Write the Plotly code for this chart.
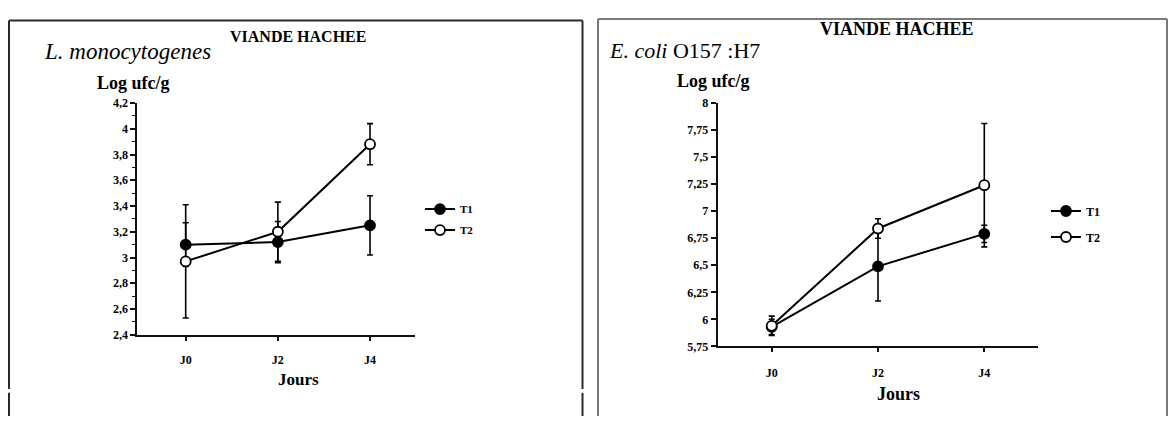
import plotly.graph_objects as go

W, H = 1171, 423

days = ["J0", "J2", "J4"]

# L. monocytogenes (left panel)
lm_t1 = [3.10, 3.12, 3.25]
lm_t1_err = [0.17, 0.16, 0.23]
lm_t2 = [2.97, 3.20, 3.88]
lm_t2_err = [0.44, 0.23, 0.16]

# E. coli O157:H7 (right panel)
ec_t1 = [5.93, 6.49, 6.79]
ec_t1_err = [0.07, 0.32, 0.08]
ec_t2 = [5.94, 6.84, 7.24]
ec_t2_err = [0.09, 0.09, 0.57]

series_names = ["T1", "T2"]
left_yticks = [2.4, 2.6, 2.8, 3.0, 3.2, 3.4, 3.6, 3.8, 4.0, 4.2]
right_yticks = [5.75, 6.0, 6.25, 6.5, 6.75, 7.0, 7.25, 7.5, 7.75, 8.0]

FONT = "Liberation Serif"


def px(x):
    return x / W


def py(y):
    return 1 - y / H


fig = go.Figure()


def add_series(vals, errs, name, filled, xa, ya, legend, group):
    fig.add_trace(go.Scatter(
        x=days, y=vals, name=name, mode="lines+markers",
        xaxis=xa, yaxis=ya, legend=legend, legendgroup=group,
        line=dict(color="black", width=2),
        marker=dict(symbol="circle", size=10,
                    color="black" if filled else "white",
                    line=dict(color="black", width=1.8)),
        error_y=dict(type="data", array=errs, visible=True,
                     color="black", thickness=1.6, width=3),
    ))


add_series(lm_t1, lm_t1_err, series_names[0], True, "x", "y", "legend", "a1")
add_series(lm_t2, lm_t2_err, series_names[1], False, "x", "y", "legend", "a2")
add_series(ec_t1, ec_t1_err, series_names[0], True, "x2", "y2", "legend2", "b1")
add_series(ec_t2, ec_t2_err, series_names[1], False, "x2", "y2", "legend2", "b2")

ytickfont = dict(family=FONT, size=12, color="black", weight="bold")
xtickfont = dict(family=FONT, size=12, color="black", weight="bold")

axis_common = dict(showgrid=False, zeroline=False, showline=True,
                   linecolor="#111", linewidth=2, ticks="outside",
                   tickcolor="#111", fixedrange=True)

fig.update_layout(
    width=W, height=H,
    margin=dict(l=0, r=0, t=0, b=0),
    paper_bgcolor="white", plot_bgcolor="white",
    separators=", ",
    showlegend=True,
    xaxis=dict(domain=[px(137.3), px(415)], range=[-0.525, 2.488],
               type="category", anchor="y", ticklen=4, tickwidth=1.5,
               ticklabelstandoff=9, tickfont=xtickfont, **axis_common),
    yaxis=dict(domain=[py(339), py(99.3)], range=[2.4, 4.2],
               tickvals=left_yticks, anchor="x", ticklen=5, tickwidth=1.5,
               tickfont=ytickfont,
               minor=dict(dtick=0.1, ticklen=3, tickwidth=1.2,
                          ticks="outside", tickcolor="#111"),
               **axis_common),
    xaxis2=dict(domain=[px(717.7), px(1038.3)], range=[-0.508, 2.508],
                type="category", anchor="y2", ticklen=4, tickwidth=1.5,
                ticklabelstandoff=10, tickfont=xtickfont, **axis_common),
    yaxis2=dict(domain=[py(351), py(99.3)], range=[5.75, 8.0],
                tickvals=right_yticks, anchor="x2", ticklen=5, tickwidth=1.5,
                tickfont=ytickfont, **axis_common),
    legend=dict(x=px(420), y=py(194), xanchor="left", yanchor="top",
                bgcolor="rgba(0,0,0,0)", borderwidth=0, itemwidth=30,
                traceorder="grouped", tracegroupgap=2,
                font=dict(family=FONT, size=11, color="black", weight="bold")),
    legend2=dict(x=px(1046), y=py(196), xanchor="left", yanchor="top",
                 bgcolor="rgba(0,0,0,0)", borderwidth=0, itemwidth=30,
                 traceorder="grouped", tracegroupgap=7,
                 font=dict(family=FONT, size=12, color="black", weight="bold")),
)


def text(s, x, y, size, xanchor="center", bold=True):
    fig.add_annotation(text=s, x=px(x), y=py(y), xref="paper", yref="paper",
                       xanchor=xanchor, yanchor="middle", showarrow=False,
                       font=dict(family=FONT, size=size, color="black",
                                 weight="bold" if bold else "normal"))


text("VIANDE HACHEE", 297.5, 31, 16)
text("<i>L. monocytogenes</i>", 42, 46, 23, xanchor="left", bold=False)
text("Log ufc/g", 133.5, 79, 18)
text("Jours", 298, 385, 17)

text("VIANDE HACHEE", 897, 23, 18)
text("<i>E. coli</i> O157 :H7", 607, 45, 22, xanchor="left", bold=False)
text("Log ufc/g", 713, 77, 18)
text("Jours", 898, 400, 18)


def line(x0, y0, x1, y1, color, width=2):
    fig.add_shape(type="line", xref="paper", yref="paper",
                  x0=px(x0), y0=py(y0), x1=px(x1), y1=py(y1),
                  line=dict(color=color, width=width))


# left panel frame (open at the bottom)
c1 = "#2a2a2a"
line(9, 14, 582.5, 14, c1)
line(9, 14, 9, 395, c1)
line(9, 399, 9, 423, c1)
line(582.5, 14, 582.5, 395, c1)
line(582.5, 399, 582.5, 423, c1)

# right panel frame
c2 = "#7a7a7a"
line(598, 12.5, 1167, 12.5, c2)
line(598, 12.5, 598, 423, c2)
line(1167, 12.5, 1167, 423, c2)

fig.write_html(
    "out.html",
    config={"displayModeBar": False},
    post_script="document.body.style.margin='0px';"
                "document.body.style.overflow='hidden';"
                "document.documentElement.style.overflow='hidden';",
)
